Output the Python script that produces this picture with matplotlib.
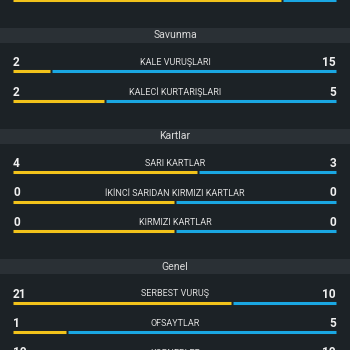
import matplotlib
matplotlib.use('Agg')
import matplotlib.pyplot as plt

# data
sections = ['', 'Savunma', 'Kartlar', 'Genel']
labels = [
    ['TOPA SAHİP OLMA'],
    ['KALE VURUŞLARI', 'KALECİ KURTARIŞLARI'],
    ['SARI KARTLAR', 'İKİNCİ SARIDAN KIRMIZI KARTLAR', 'KIRMIZI KARTLAR'],
    ['SERBEST VURUŞ', 'OFSAYTLAR', 'KORNERLER'],
]
home = [[10], [2, 2], [4, 0, 0], [21, 1, 10]]
away = [[2], [15, 5], [3, 0, 0], [10, 5, 10]]

BG = '#1c2226'
BAND = '#2a3035'
YEL = '#f2c31b'
BLU = '#1aa7e2'

plt.rcParams['font.family'] = ['Roboto', 'DejaVu Sans']

fig = plt.figure(figsize=(3.5, 3.5), dpi=100, facecolor=BG)
ax = fig.add_axes([0, 0, 1, 1], facecolor=BG)
ax.set_xlim(0, 350)
ax.set_ylim(350, 0)
ax.axis('off')

x0, x1 = 13, 336
gap = 1.0
row_h = 29.5
y = -36.5  # header position of the cut-off first section
for s, name in enumerate(sections):
    if name:
        ax.axhspan(y - 7.5, y + 7.5, color=BAND, lw=0)
        ax.text(175, y, name, ha='center', va='center', fontsize=7.6,
                color='#d8d8d8')
    by = y + 36
    for lab, h, a in zip(labels[s], home[s], away[s]):
        frac = 0.5 if h + a == 0 else h / (h + a)
        xm = x0 + frac * (x1 - x0)
        ax.plot([x0, xm - gap], [by, by], color=YEL, lw=2.2,
                solid_capstyle='butt')
        ax.plot([xm + gap, x1], [by, by], color=BLU, lw=2.2,
                solid_capstyle='butt')
        if by - 8.5 > 0:
            ax.text(x0, by - 8.5, str(h), ha='left', va='center', fontsize=8.6,
                    fontweight='bold', color='#f0f0f0')
            ax.text(x1, by - 8.5, str(a), ha='right', va='center', fontsize=8.6,
                    fontweight='bold', color='#f0f0f0')
            ax.text(175, by - 8.5, lab, ha='center', va='center', fontsize=6.5,
                    color='#dcdcdc')
        by += row_h
    y = by - row_h + 35.5

fig.savefig('out.png', dpi=100, facecolor=BG)
